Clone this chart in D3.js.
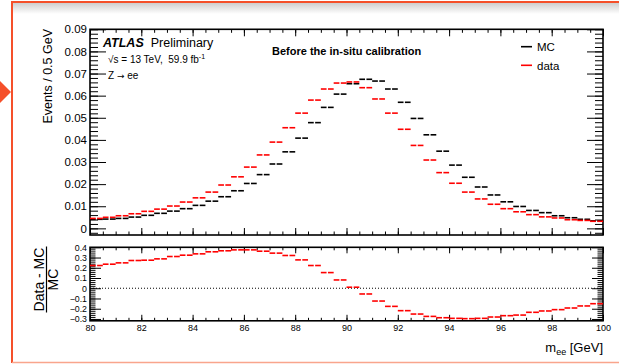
<!DOCTYPE html>
<html>
<head>
<meta charset="utf-8">
<script src="https://cdn.jsdelivr.net/npm/d3@7/dist/d3.min.js"></script>
<style>
  body { margin: 0; background: #fff; }
  text { font-family: "Liberation Sans", Arial, Helvetica, sans-serif; fill: #000; white-space: pre; }
</style>
</head>
<body>
<div id="chart"></div>
<script>
// bin low edges (GeV), 0.5 GeV wide
const binLow = [80, 80.5, 81, 81.5, 82, 82.5, 83, 83.5, 84, 84.5,
    85, 85.5, 86, 86.5, 87, 87.5, 88, 88.5, 89, 89.5,
    90, 90.5, 91, 91.5, 92, 92.5, 93, 93.5, 94, 94.5,
    95, 95.5, 96, 96.5, 97, 97.5, 98, 98.5, 99, 99.5]
const binWidth = 0.5

const mcValues = [0.0041, 0.0042, 0.0045, 0.0051, 0.0059, 0.0068, 0.0078, 0.0089, 0.0104, 0.0123,
    0.0143, 0.0170, 0.0203, 0.0243, 0.0291, 0.0346, 0.0408, 0.0478, 0.0547, 0.0607,
    0.0654, 0.0674, 0.0666, 0.0630, 0.0570, 0.0497, 0.0423, 0.0349, 0.0286, 0.0231,
    0.0187, 0.0151, 0.0120, 0.0099, 0.0081, 0.0071, 0.0057, 0.0048, 0.0041, 0.0034]

const dataValues = [0.0045, 0.0050, 0.0057, 0.0066, 0.0077, 0.0087, 0.0101, 0.0119, 0.0138, 0.0164,
    0.0196, 0.0233, 0.0277, 0.0332, 0.0390, 0.0455, 0.0521, 0.0580, 0.0630, 0.0657,
    0.0662, 0.0636, 0.0585, 0.0521, 0.0448, 0.0375, 0.0309, 0.0252, 0.0204, 0.0164,
    0.0133, 0.0109, 0.0089, 0.0075, 0.0062, 0.0052, 0.0047, 0.0039, 0.0036, 0.0032]

const ratioValues = [0.222, 0.235, 0.248, 0.271, 0.274, 0.287, 0.310, 0.323, 0.336, 0.356,
    0.366, 0.375, 0.375, 0.362, 0.343, 0.320, 0.277, 0.222, 0.153, 0.081,
    0.010, -0.056, -0.125, -0.177, -0.219, -0.252, -0.275, -0.288, -0.294, -0.297,
    -0.294, -0.281, -0.268, -0.262, -0.235, -0.222, -0.209, -0.193, -0.173, -0.151]

const xTicks = [80, 82, 84, 86, 88, 90, 92, 94, 96, 98, 100]
const yTicks = [0, 0.01, 0.02, 0.03, 0.04, 0.05, 0.06, 0.07, 0.08, 0.09]
const rTicks = [-0.3, -0.2, -0.1, 0, 0.1, 0.2, 0.3, 0.4]

const W = 619, H = 364
const L = 90, R = 603
const mainTop = 29.3, mainBot = 235
const ratTop = 247.3, ratBot = 320.8

const svg = d3.select('#chart').append('svg')
    .attr('width', W).attr('height', H)

// screenshot frame
const defs = svg.append('defs')
const grad = defs.append('linearGradient').attr('id', 'shade')
    .attr('x1', 0).attr('y1', 0).attr('x2', 0).attr('y2', 1)
grad.append('stop').attr('offset', 0).attr('stop-color', '#cfcfcf')
grad.append('stop').attr('offset', 1).attr('stop-color', '#ffffff')
svg.append('rect').attr('x', 13).attr('y', 3).attr('width', W - 13).attr('height', 11)
    .attr('fill', 'url(#shade)')
svg.append('line').attr('x1', 12).attr('x2', W).attr('y1', 2).attr('y2', 2)
    .attr('stroke', '#f5502a').attr('stroke-width', 2)
svg.append('line').attr('x1', 12).attr('x2', 12).attr('y1', 1).attr('y2', 363)
    .attr('stroke', '#f5502a').attr('stroke-width', 2)
svg.append('line').attr('x1', 12).attr('x2', W).attr('y1', 362.5).attr('y2', 362.5)
    .attr('stroke', '#f9a58c').attr('stroke-width', 1.5)
svg.append('path').attr('d', 'M0,81L11,92L0,103Z').attr('fill', '#f5502a')

const x = d3.scaleLinear().domain([80, 100]).range([L, R])
const y = d3.scaleLinear().domain([-0.003, 0.09]).range([mainBot, mainTop])
const yr = d3.scaleLinear().domain([-0.318, 0.4]).range([ratBot, ratTop])

const minorX = d3.range(80, 100.01, 0.5)
const minorY = d3.range(-0.002, 0.0901, 0.002)
const minorR = d3.range(-0.3, 0.401, 0.02)

function fmtR(d) {
    if (Math.abs(d) < 1e-9) return '0'
    return (d < 0 ? '\u2212' : '') + Math.abs(d).toFixed(1)
}

function axes(g, yScale, top, bot, yt, ym, yLen, xLen, fmt, xLabels) {
    // minor
    g.append('g').attr('transform', `translate(${L},0)`)
        .call(d3.axisLeft(yScale).tickValues(ym).tickSizeInner(-yLen[1]).tickSizeOuter(0).tickFormat(''))
    g.append('g').attr('transform', `translate(${R},0)`)
        .call(d3.axisRight(yScale).tickValues(ym).tickSizeInner(-yLen[1]).tickSizeOuter(0).tickFormat(''))
    g.append('g').attr('transform', `translate(0,${bot})`)
        .call(d3.axisBottom(x).tickValues(minorX).tickSizeInner(-xLen[1]).tickSizeOuter(0).tickFormat(''))
    g.append('g').attr('transform', `translate(0,${top})`)
        .call(d3.axisTop(x).tickValues(minorX).tickSizeInner(-xLen[1]).tickSizeOuter(0).tickFormat(''))
    // major
    g.append('g').attr('class', 'ylab').attr('transform', `translate(${L},0)`)
        .call(d3.axisLeft(yScale).tickValues(yt).tickSizeInner(-yLen[0]).tickSizeOuter(0)
            .tickPadding(3).tickFormat(fmt))
    g.append('g').attr('transform', `translate(${R},0)`)
        .call(d3.axisRight(yScale).tickValues(yt).tickSizeInner(-yLen[0]).tickSizeOuter(0).tickFormat(''))
    g.append('g').attr('class', 'xlab').attr('transform', `translate(0,${bot})`)
        .call(d3.axisBottom(x).tickValues(xTicks).tickSizeInner(-xLen[0]).tickSizeOuter(0)
            .tickPadding(4).tickFormat(xLabels ? d3.format('d') : ''))
    g.append('g').attr('transform', `translate(0,${top})`)
        .call(d3.axisTop(x).tickValues(xTicks).tickSizeInner(-xLen[0]).tickSizeOuter(0).tickFormat(''))
    g.selectAll('.domain').remove()
    g.selectAll('.tick line').attr('stroke', '#000').attr('stroke-width', 1)
    g.append('rect').attr('x', L).attr('y', top).attr('width', R - L).attr('height', bot - top)
        .attr('fill', 'none').attr('stroke', '#000').attr('stroke-width', 1.6)
}

const gMain = svg.append('g')
axes(gMain, y, mainTop, mainBot, yTicks, minorY, [16, 8], [7, 3.5],
    d => d === 0 ? '0' : d.toFixed(2), false)
gMain.selectAll('.ylab text').attr('font-size', 11.5).attr('fill', '#000')
    .attr('font-family', '"Liberation Sans", Arial, sans-serif')

const gRat = svg.append('g')
axes(gRat, yr, ratTop, ratBot, rTicks, minorR, [11, 5.5], [6, 3], fmtR, true)
gRat.selectAll('.ylab text').attr('font-size', 8.8).attr('fill', '#000')
    .attr('font-family', '"Liberation Sans", Arial, sans-serif')
gRat.selectAll('.xlab text').attr('font-size', 9).attr('fill', '#000')
    .attr('font-family', '"Liberation Sans", Arial, sans-serif')

// zero line in ratio
gRat.append('line').attr('x1', L).attr('x2', R).attr('y1', yr(0)).attr('y2', yr(0))
    .attr('stroke', '#000').attr('stroke-width', 1).attr('stroke-dasharray', '1,2')

// histogram markers: horizontal bar across bin, small gap at centre
function drawBins(g, values, scale, color) {
    const bins = g.append('g').selectAll('g')
        .data(values.map((v, i) => ({ lo: binLow[i], v })))
        .enter().append('g')
    bins.append('line')
        .attr('x1', d => x(d.lo)).attr('x2', d => x(d.lo + binWidth / 2) - 0.7)
        .attr('y1', d => scale(d.v)).attr('y2', d => scale(d.v))
        .attr('stroke', color).attr('stroke-width', 1.6)
    bins.append('line')
        .attr('x1', d => x(d.lo + binWidth / 2) + 0.7).attr('x2', d => x(d.lo + binWidth))
        .attr('y1', d => scale(d.v)).attr('y2', d => scale(d.v))
        .attr('stroke', color).attr('stroke-width', 1.6)
}
drawBins(gMain, mcValues, y, '#000')
drawBins(gMain, dataValues, y, '#ff0000')
drawBins(gRat, ratioValues, yr, '#ff0000')

// texts
const t1 = svg.append('text').attr('x', 103).attr('y', 47).attr('font-size', 12.5)
t1.append('tspan').attr('font-weight', 'bold').attr('font-style', 'italic').text('ATLAS')
t1.append('tspan').attr('dx', 7).text('Preliminary')

const t2 = svg.append('text').attr('x', 108).attr('y', 63).attr('font-size', 10)
t2.append('tspan').text('\u221As = 13 TeV,  59.9 fb')
t2.append('tspan').attr('font-size', 7).attr('dy', -4).text('-1')

const t3 = svg.append('text').attr('x', 108).attr('y', 79).attr('font-size', 10)
t3.append('tspan').text('Z ')
t3.append('tspan').attr('font-family', '"DejaVu Sans", sans-serif').attr('font-size', 9).text('\u2192')
t3.append('tspan').text(' ee')

svg.append('text').attr('x', 272).attr('y', 55).attr('font-size', 11)
    .attr('font-weight', 'bold').text('Before the in-situ calibration')

// legend
const legend = [['MC', '#000', 46.7], ['data', '#ff0000', 65.3]]
legend.forEach(([name, col, ly]) => {
    svg.append('line').attr('x1', 521).attr('x2', 532).attr('y1', ly).attr('y2', ly)
        .attr('stroke', col).attr('stroke-width', 1.6)
    svg.append('text').attr('x', 537).attr('y', ly + 4.3).attr('font-size', 11.5).text(name)
})

// axis titles
svg.append('text').attr('transform', 'translate(51.5,29) rotate(-90)')
    .attr('text-anchor', 'end').attr('font-size', 12.5).text('Events / 0.5 GeV')

const rt = svg.append('g').attr('transform', 'translate(0,279.5)')
rt.append('text').attr('transform', 'translate(44,0) rotate(-90)')
    .attr('text-anchor', 'middle').attr('font-size', 14).text('Data - MC')
rt.append('line').attr('x1', 46.5).attr('x2', 46.5).attr('y1', -33).attr('y2', 33)
    .attr('stroke', '#000').attr('stroke-width', 1.2)
rt.append('text').attr('transform', 'translate(58,0) rotate(-90)')
    .attr('text-anchor', 'middle').attr('font-size', 14).text('MC')

const xt = svg.append('text').attr('x', 603).attr('y', 352).attr('text-anchor', 'end')
    .attr('font-size', 13)
xt.append('tspan').text('m')
xt.append('tspan').attr('font-size', 9).attr('dy', 3).text('ee')
xt.append('tspan').attr('dy', -3).text(' [GeV]')
</script>
</body>
</html>
